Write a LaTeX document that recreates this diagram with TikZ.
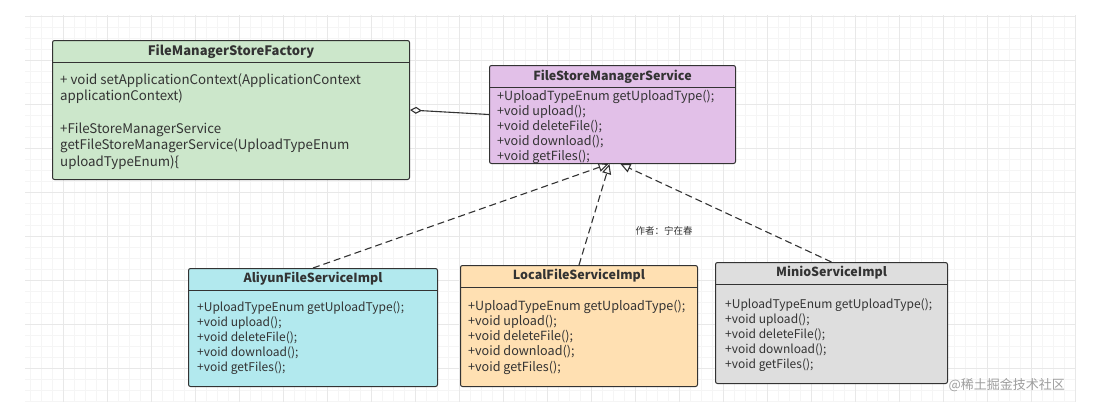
\documentclass[tikz,border=0pt]{standalone}
\usepackage{fontspec}
\setmainfont{Noto Sans CJK SC}
\usepackage{tikz}
\usetikzlibrary{arrows.meta}
\usepackage{xcolor}
\definecolor{boxedge}{RGB}{51,51,51}
\definecolor{facgreen}{RGB}{204,231,203}
\definecolor{svcpurple}{RGB}{226,192,232}
\definecolor{alicyan}{RGB}{178,233,238}
\definecolor{localorange}{RGB}{255,224,178}
\definecolor{miniogray}{RGB}{222,222,222}

\begin{document}
\begin{tikzpicture}[x=1pt,y=-1pt,
	classbox/.style={draw=boxedge,line width=1pt,rounded corners=2pt,anchor=north west,inner sep=0pt},
	classname/.style={font=\bfseries\fontsize{12.5}{14}\selectfont,text=boxedge},
	members/.style={font=\fontsize{12}{14.8}\selectfont,align=left,anchor=base west,inner sep=0pt,text=boxedge},
	realize/.style={draw=boxedge,line width=1.1pt,dash pattern=on 7pt off 4pt,-{Triangle[open,length=10pt,width=9pt]}}]
			\useasboundingbox[fill=white] (0,0) rectangle (1112,416);
			% background grid
			\foreach \gx in {30,41,...,1075}
				\draw[black!4,line width=0.6pt] (\gx,15) -- (\gx,402);
			\foreach \gy in {16,27,...,401}
				\draw[black!4,line width=0.6pt] (25,\gy) -- (1075,\gy);
			\foreach \gx in {63,107,...,1075}
				\draw[black!9,line width=0.7pt] (\gx,15) -- (\gx,402);
			\foreach \gy in {16,60,...,401}
				\draw[black!9,line width=0.7pt] (25,\gy) -- (1075,\gy);
			% classes (member nodes sit on the baseline of their last line)
			\node[classbox,fill=facgreen,minimum width=357pt,minimum height=139pt] (fac) at (52,40) {};
			\draw[boxedge,line width=1pt] ([yshift=-22pt]fac.north west) -- ([yshift=-22pt]fac.north east);
			\node[classname,font=\bfseries\fontsize{13}{15}\selectfont] (facname) at ([yshift=-12pt]fac.north) {FileManagerStoreFactory};
			\node[members,font=\fontsize{13.3}{16.4}\selectfont] (facops) at ([xshift=8pt,yshift=-126pt]fac.north west)
				{+ void setApplicationContext(ApplicationContext\\applicationContext)\\[16.4pt]+FileStoreManagerService\\getFileStoreManagerService(UploadTypeEnum\\uploadTypeEnum)\{};
			
			\node[classbox,fill=svcpurple,minimum width=246pt,minimum height=98pt] (svc) at (489,65) {};
			\draw[boxedge,line width=1pt] ([yshift=-22pt]svc.north west) -- ([yshift=-22pt]svc.north east);
			\node[classname] (svcname) at ([yshift=-12pt]svc.north) {FileStoreManagerService};
			\node[members,font=\fontsize{12.6}{14.8}\selectfont] (svcops) at ([xshift=8pt,yshift=-95pt]svc.north west)
				{+UploadTypeEnum getUploadType();\\+void upload();\\+void deleteFile();\\+void download();\\+void getFiles();};
			
			\node[classbox,fill=alicyan,minimum width=249pt,minimum height=118pt] (aliyun) at (188,268) {};
			\draw[boxedge,line width=1pt] ([yshift=-22pt]aliyun.north west) -- ([yshift=-22pt]aliyun.north east);
			\node[classname] (aliyunname) at ([yshift=-11pt]aliyun.north) {AliyunFileServiceImpl};
			\node[members] (aliyunops) at ([xshift=9pt,yshift=-103pt]aliyun.north west)
				{+UploadTypeEnum getUploadType();\\+void upload();\\+void deleteFile();\\+void download();\\+void getFiles();};
			
			\node[classbox,fill=localorange,minimum width=237pt,minimum height=121pt] (local) at (460,265) {};
			\draw[boxedge,line width=1pt] ([yshift=-22pt]local.north west) -- ([yshift=-22pt]local.north east);
			\node[classname] (localname) at ([yshift=-11pt]local.north) {LocalFileServiceImpl};
			\node[members,font=\fontsize{12.6}{15.1}\selectfont] (localops) at ([xshift=8pt,yshift=-106pt]local.north west)
				{+UploadTypeEnum getUploadType();\\+void upload();\\+void deleteFile();\\+void download();\\+void getFiles();};
			
			\node[classbox,fill=miniogray,minimum width=232pt,minimum height=121pt] (minio) at (715,262) {};
			\draw[boxedge,line width=1pt] ([yshift=-22pt]minio.north west) -- ([yshift=-22pt]minio.north east);
			\node[classname] (minioname) at ([yshift=-11pt]minio.north) {MinioServiceImpl};
			\node[members] (minioops) at ([xshift=10pt,yshift=-106pt]minio.north west)
				{+UploadTypeEnum getUploadType();\\+void upload();\\+void deleteFile();\\+void download();\\+void getFiles();};
			
			% relations
			\draw[boxedge,line width=1.1pt,-{Diamond[open,length=12pt,width=7pt]}] (svc.west) -- (fac.east);
			\draw[realize] (aliyun.north) -- ([xshift=-4pt]svc.south);
			\draw[realize] (local.north) -- ([xshift=-3pt]svc.south);
			\draw[realize] (minio.north) -- ([xshift=8pt]svc.south);
			
			\node[font=\fontsize{9.5}{11}\selectfont,text=boxedge] (author) at (664,231) {作者：宁在春};
			\node[font=\fontsize{13}{15}\selectfont,text=black!38,anchor=west] (mark) at (945,385) {@稀土掘金技术社区};
		\end{tikzpicture}
\end{document}
